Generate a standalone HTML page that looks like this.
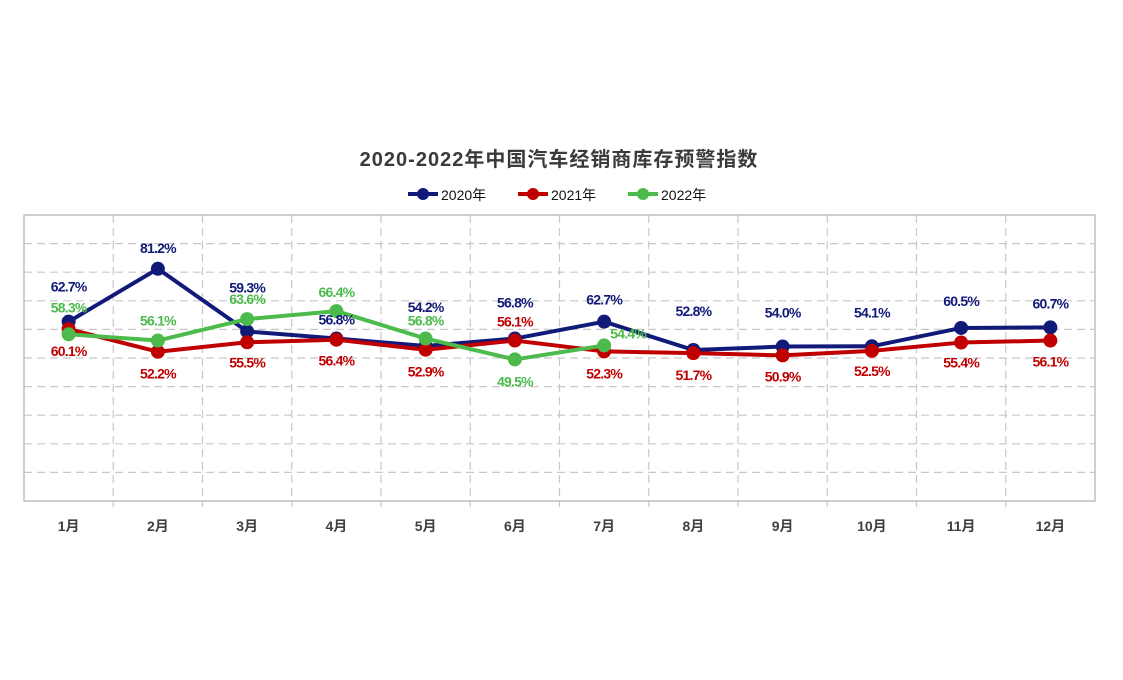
<!DOCTYPE html>
<html><head><meta charset="utf-8">
<style>
html,body{margin:0;padding:0;background:#fff;}
svg text{font-family:"Liberation Sans","Noto Sans CJK SC",sans-serif;}
</style></head>
<body>
<svg id="chart" width="1123" height="675" viewBox="0 0 1123 675" xmlns="http://www.w3.org/2000/svg">
<text x="559" y="166" text-anchor="middle" font-size="20" font-weight="bold" fill="#3a3a3a" letter-spacing="1">2020-2022年中国汽车经销商库存预警指数</text>
<g id="legend"></g>
<g id="grid"></g>
<g id="series"></g>
<g id="xaxis"></g>
</svg>
<script>
const categories = ["1月","2月","3月","4月","5月","6月","7月","8月","9月","10月","11月","12月"];
const seriesNames = ["2020年","2021年","2022年"];
const values2020 = [62.7,81.2,59.3,56.8,54.2,56.8,62.7,52.8,54.0,54.1,60.5,60.7];
const values2021 = [60.1,52.2,55.5,56.4,52.9,56.1,52.3,51.7,50.9,52.5,55.4,56.1];
const values2022 = [58.3,56.1,63.6,66.4,56.8,49.5,54.4];
const yTicks = [0,10,20,30,40,50,60,70,80,90,100];

const NS="http://www.w3.org/2000/svg";
const colors=["#111a78","#c00000","#4cbb4c"];
const allValues=[values2020,values2021,values2022];
const plotL=24, plotR=1095, plotT=215, plotB=501;
const yMin=0, yMax=100;
const step=(plotR-plotL)/categories.length;
function xPos(i){return plotL+step*(i+0.5);}
function yPos(v){return plotB-(v-yMin)/(yMax-yMin)*(plotB-plotT);}
function mk(tag,attrs,parent){const e=document.createElementNS(NS,tag);for(const k in attrs)e.setAttribute(k,attrs[k]);parent.appendChild(e);return e;}

// label offsets (styling only)
const labelDY=[
 [-35,-21,-44,-19,-39,-36,-22,-39,-34,-34,-27,-24],
 [22,22,20,21,22,-19,22,22,21,20,20,21],
 [-27,-20,-20,-19,-18,22,-12]
];
const labelDX=[[0,0,0,0,0,0,0,0,0,0,0,0],[0,0,0,0,0,0,0,0,0,0,0,0],[0,0,0,0,0,0,24]];

const grid=document.getElementById('grid');
yTicks.forEach((t,i)=>{
  const y=yPos(t);
  if(t===yMin||t===yMax)return;
  const l=mk('line',{x1:plotL,x2:plotR,y1:y,y2:y,stroke:'#c8c8c8','stroke-width':1.2,'stroke-dasharray':'8,5'},grid);
  
  
});
for(let i=1;i<categories.length;i++){
  const x=plotL+step*i;
  const l=mk('line',{x1:x,x2:x,y1:plotT,y2:plotB+6,stroke:'#c8c8c8','stroke-width':1.2,'stroke-dasharray':'8,5'},grid);
  
  
}
const border=mk('rect',{x:plotL,y:plotT,width:plotR-plotL,height:plotB-plotT,fill:'none',stroke:'#bfbfbf','stroke-width':1.5},grid);



const xaxis=document.getElementById('xaxis');
categories.forEach((c,i)=>{
  const t=mk('text',{x:xPos(i),y:531,'text-anchor':'middle','font-size':14,'font-weight':'bold',fill:'#404040'},xaxis);
  t.textContent=c;
  
  
});

const sg=document.getElementById('series');
allValues.forEach((vals,s)=>{
  const g=mk('g',{},sg);
  
  
  const pts=vals.map((v,i)=>xPos(i)+','+yPos(v)).join(' ');
  const pl=mk('polyline',{points:pts,fill:'none',stroke:colors[s],'stroke-width':4,'stroke-linejoin':'round'},g);
  
  
  vals.forEach((v,i)=>{
    const c=mk('circle',{cx:xPos(i),cy:yPos(v),r:7,fill:colors[s]},g);
    
    
  });
});
allValues.forEach((vals,s)=>{
  vals.forEach((v,i)=>{
    const t=mk('text',{x:xPos(i)+labelDX[s][i],y:yPos(v)+labelDY[s][i]+5,'text-anchor':'middle','font-size':14,'font-weight':'bold',fill:colors[s],'letter-spacing':'-0.8'},sg);
    t.textContent=v.toFixed(1)+'%';
    
    
  });
});

const lg=document.getElementById('legend');
const legX=[408,518,628];
seriesNames.forEach((n,s)=>{
  const g=mk('g',{},lg);
  
  
  mk('line',{x1:legX[s],x2:legX[s]+30,y1:194,y2:194,stroke:colors[s],'stroke-width':4},g);
  mk('circle',{cx:legX[s]+15,cy:194,r:6,fill:colors[s]},g);
  const t=mk('text',{x:legX[s]+33,y:200,'font-size':14,fill:'#111'},g);
  t.textContent=n;
});
</script>
</body></html>
